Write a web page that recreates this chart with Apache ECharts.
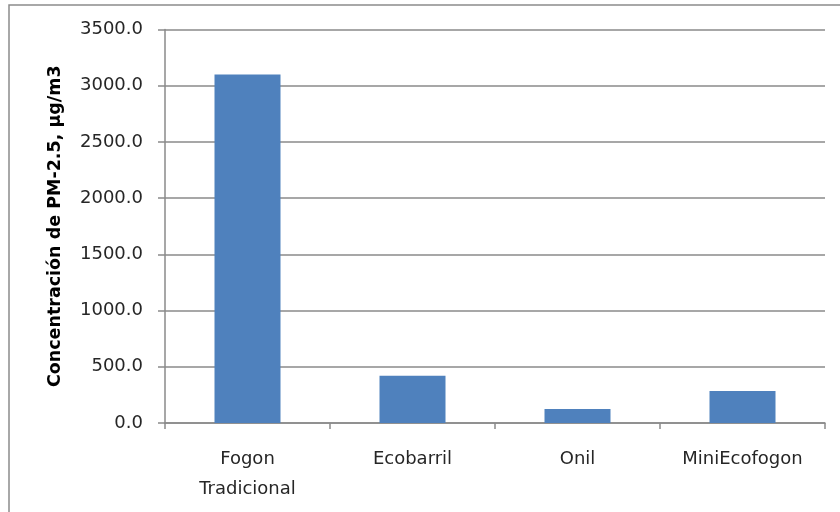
<!DOCTYPE html>
<html>
<head>
<meta charset="utf-8">
<script src="https://cdn.jsdelivr.net/npm/echarts@6/dist/echarts.min.js"></script>
<style>
html,body{margin:0;padding:0;background:#fff;}
#chart{width:840px;height:512px;}
</style>
</head>
<body>
<div id="chart"></div>
<script>
var categories = ['Fogon\nTradicional', 'Ecobarril', 'Onil', 'MiniEcofogon'];
var values = [3100, 420, 125, 285];
var yTicks = {min: 0, max: 3500, interval: 500};
var yTitle = 'Concentración de PM-2.5, μg/m3';

var chart = echarts.init(document.getElementById('chart'), null, {renderer: 'canvas'});
var font = 'DejaVu Sans';
chart.setOption({
  animation: false,
  backgroundColor: '#ffffff',
  graphic: [{
    type: 'rect',
    shape: {x: 9, y: 5, width: 900, height: 600},
    style: {fill: 'none', stroke: '#8c8c8c', lineWidth: 1.5},
    silent: true
  }],
  grid: {left: 165, top: 29.5, right: 15, bottom: 89, containLabel: false},
  xAxis: {
    type: 'category',
    data: categories,
    axisLine: {show: true, lineStyle: {color: '#8a8a8a', width: 1.5}},
    axisTick: {show: true, alignWithLabel: false, length: 6, lineStyle: {color: '#8a8a8a', width: 1.5}},
    axisLabel: {color: '#262626', fontFamily: font, fontSize: 18, margin: 21, lineHeight: 30, interval: 0},
    splitLine: {show: false}
  },
  yAxis: {
    type: 'value',
    min: yTicks.min, max: yTicks.max, interval: yTicks.interval,
    name: yTitle,
    nameLocation: 'middle',
    nameGap: 101,
    nameRotate: 90,
    nameTextStyle: {color: '#000', fontFamily: font, fontSize: 17.5, fontWeight: 'bold'},
    axisLine: {show: true, lineStyle: {color: '#8a8a8a', width: 1.5}},
    axisTick: {show: true, inside: false, length: 7, lineStyle: {color: '#8a8a8a', width: 1.5}},
    axisLabel: {color: '#262626', fontFamily: font, fontSize: 18, margin: 22,
      formatter: function (v) { return v.toFixed(1); }},
    splitLine: {show: true, lineStyle: {color: '#8a8a8a', width: 1.5}}
  },
  series: [{
    type: 'bar',
    data: values,
    barWidth: '40%',
    itemStyle: {color: '#4f81bd'}
  }]
});
</script>
</body>
</html>
